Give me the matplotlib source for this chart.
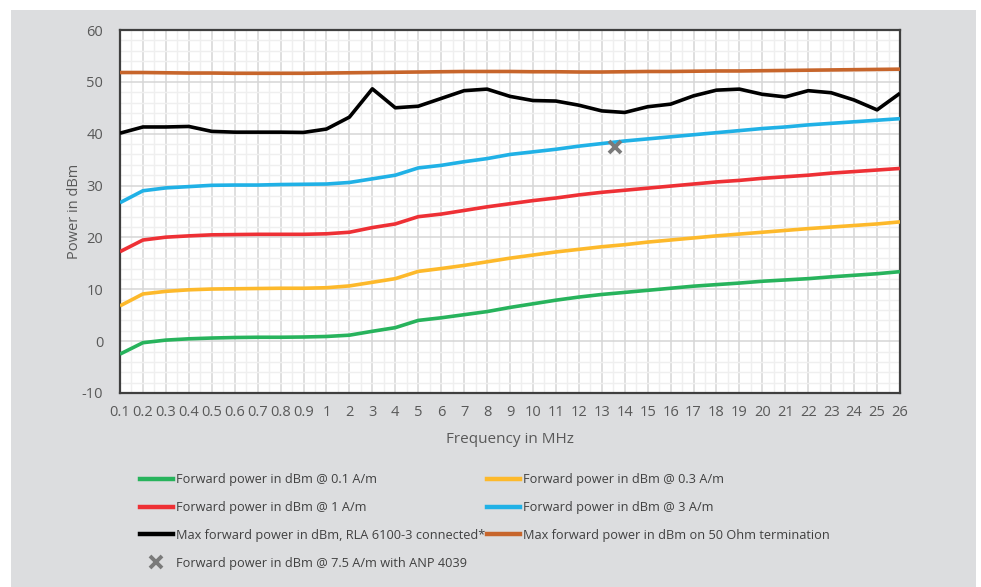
import matplotlib
matplotlib.use("Agg")
import matplotlib.pyplot as plt
import numpy as np
from matplotlib.lines import Line2D
from matplotlib.patches import Rectangle
from matplotlib.ticker import MultipleLocator

plt.rcParams["font.family"] = ["Open Sans", "DejaVu Sans"]
plt.rcParams["axes.unicode_minus"] = False

freq_labels = ["0.1", "0.2", "0.3", "0.4", "0.5", "0.6", "0.7", "0.8", "0.9",
               "1", "2", "3", "4", "5", "6", "7", "8", "9", "10", "11", "12", "13",
               "14", "15", "16", "17", "18", "19", "20", "21", "22", "23", "24", "25", "26"]
freq_mhz = [float(s) for s in freq_labels]

fwd_01 = [-2.5, -0.3, 0.2, 0.45, 0.6, 0.7, 0.75, 0.75, 0.8, 0.9, 1.15, 1.9, 2.6, 4.0, 4.5,
          5.1, 5.7, 6.5, 7.2, 7.9, 8.5, 9.0, 9.4, 9.8, 10.2, 10.6, 10.9, 11.2, 11.55, 11.8,
          12.05, 12.4, 12.7, 13.0, 13.4]
fwd_03 = [6.8, 9.1, 9.6, 9.9, 10.05, 10.1, 10.15, 10.2, 10.2, 10.3, 10.65, 11.35, 12.05,
          13.45, 14.0, 14.6, 15.3, 16.0, 16.6, 17.2, 17.7, 18.2, 18.6, 19.1, 19.5, 19.9,
          20.3, 20.65, 21.0, 21.35, 21.7, 22.0, 22.3, 22.6, 23.0]
fwd_1 = [17.25, 19.5, 20.05, 20.3, 20.5, 20.55, 20.6, 20.6, 20.6, 20.7, 21.0, 21.9, 22.6,
         24.0, 24.5, 25.2, 25.9, 26.5, 27.1, 27.6, 28.2, 28.7, 29.1, 29.5, 29.9, 30.3,
         30.7, 31.0, 31.4, 31.7, 32.0, 32.4, 32.7, 33.0, 33.3]
fwd_3 = [26.7, 29.0, 29.55, 29.8, 30.05, 30.1, 30.1, 30.2, 30.25, 30.3, 30.6, 31.3, 32.0,
         33.4, 33.9, 34.6, 35.2, 36.0, 36.5, 37.0, 37.6, 38.1, 38.6, 39.0, 39.4, 39.8,
         40.2, 40.6, 41.0, 41.3, 41.7, 42.0, 42.3, 42.6, 42.9]
max_rla = [40.1, 41.3, 41.3, 41.4, 40.45, 40.3, 40.3, 40.3, 40.25, 40.9, 43.2, 48.65, 45.0,
           45.3, 46.8, 48.3, 48.6, 47.2, 46.4, 46.3, 45.5, 44.4, 44.1, 45.2, 45.7, 47.3,
           48.4, 48.6, 47.6, 47.1, 48.3, 47.9, 46.5, 44.6, 47.8]
max_50ohm = [51.8, 51.8, 51.75, 51.7, 51.7, 51.65, 51.65, 51.65, 51.65, 51.7, 51.75, 51.8,
             51.85, 51.9, 51.95, 52.0, 52.0, 52.0, 51.95, 51.95, 51.9, 51.9, 51.95, 52.0,
             52.0, 52.05, 52.1, 52.1, 52.15, 52.2, 52.25, 52.3, 52.35, 52.4, 52.45]

anp_freq = 13.56
anp_power = 37.5

series = [
    ("Forward power in dBm @ 0.1 A/m", fwd_01, "#27b35c"),
    ("Forward power in dBm @ 0.3 A/m", fwd_03, "#fdb92b"),
    ("Forward power in dBm @ 1 A/m", fwd_1, "#ee3035"),
    ("Forward power in dBm @ 3 A/m", fwd_3, "#20b1e6"),
    ("Max forward power in dBm, RLA 6100-3 connected*", max_rla, "#000000"),
    ("Max forward power in dBm on 50 Ohm termination", max_50ohm, "#c7652b"),
]

text_color = "#595959"

fig = plt.figure(figsize=(9.81, 5.87), dpi=100, facecolor="white")
fig.patches.append(Rectangle((11 / 981, 0), 965 / 981, 577 / 587, transform=fig.transFigure,
                             facecolor="#dcdddf", edgecolor="none", zorder=-10))

ax = fig.add_axes([120 / 981, 1 - 393 / 587, 780 / 981, 363 / 587])
ax.set_facecolor("white")

x = np.arange(len(freq_labels))
for label, vals, color in series:
    ax.plot(x, vals, color=color, linewidth=2.6, solid_capstyle="butt", zorder=3)

anp_x = np.interp(anp_freq, freq_mhz, x)
ax.plot([anp_x], [anp_power], linestyle="none", marker="x", markersize=9,
        markeredgewidth=2.8, color="#7a7a7a", zorder=4)

ax.set_xlim(0, len(freq_labels) - 1)
ax.set_ylim(-10, 60)
ax.set_xticks(x)
ax.set_xticklabels(freq_labels)
ax.xaxis.set_minor_locator(MultipleLocator(0.5))
ax.yaxis.set_major_locator(MultipleLocator(10))
ax.yaxis.set_minor_locator(MultipleLocator(2))
ax.grid(which="major", color="#d6d6d6", linewidth=1.1, zorder=0)
ax.grid(which="minor", color="#efefef", linewidth=1.0, zorder=0)
ax.set_axisbelow(True)
ax.tick_params(which="both", length=0, colors=text_color, labelsize=10.5)
ax.tick_params(axis="x", pad=9)
ax.tick_params(axis="y", pad=12)
for sp in ax.spines.values():
    sp.set_color("#3f3f3f")
    sp.set_linewidth(1.6)

ax.set_xlabel("Frequency in MHz", color=text_color, fontsize=11, labelpad=8)
ax.set_ylabel("Power in dBm", color=text_color, fontsize=10.5, labelpad=0)

# legend: column-major fill -> left column first
order = [0, 2, 4, 1, 3, 5]
handles = [Line2D([], [], color=series[i][2], linewidth=3.2) for i in order]
labels = [series[i][0] for i in order]
handles.insert(3, Line2D([], [], linestyle="none", marker="x", markersize=9,
                         markeredgewidth=2.8, color="#7a7a7a"))
labels.insert(3, "Forward power in dBm @ 7.5 A/m with ANP 4039")
leg = fig.legend(handles, labels, ncol=2, loc="upper left",
                 bbox_to_anchor=(128 / 981, 1 - 462 / 587), frameon=False,
                 fontsize=9.2, handlelength=2.6, handletextpad=0.25,
                 columnspacing=0.12, labelspacing=1.15, labelcolor="#404040")

fig.savefig("out.png", dpi=100, facecolor="white")
